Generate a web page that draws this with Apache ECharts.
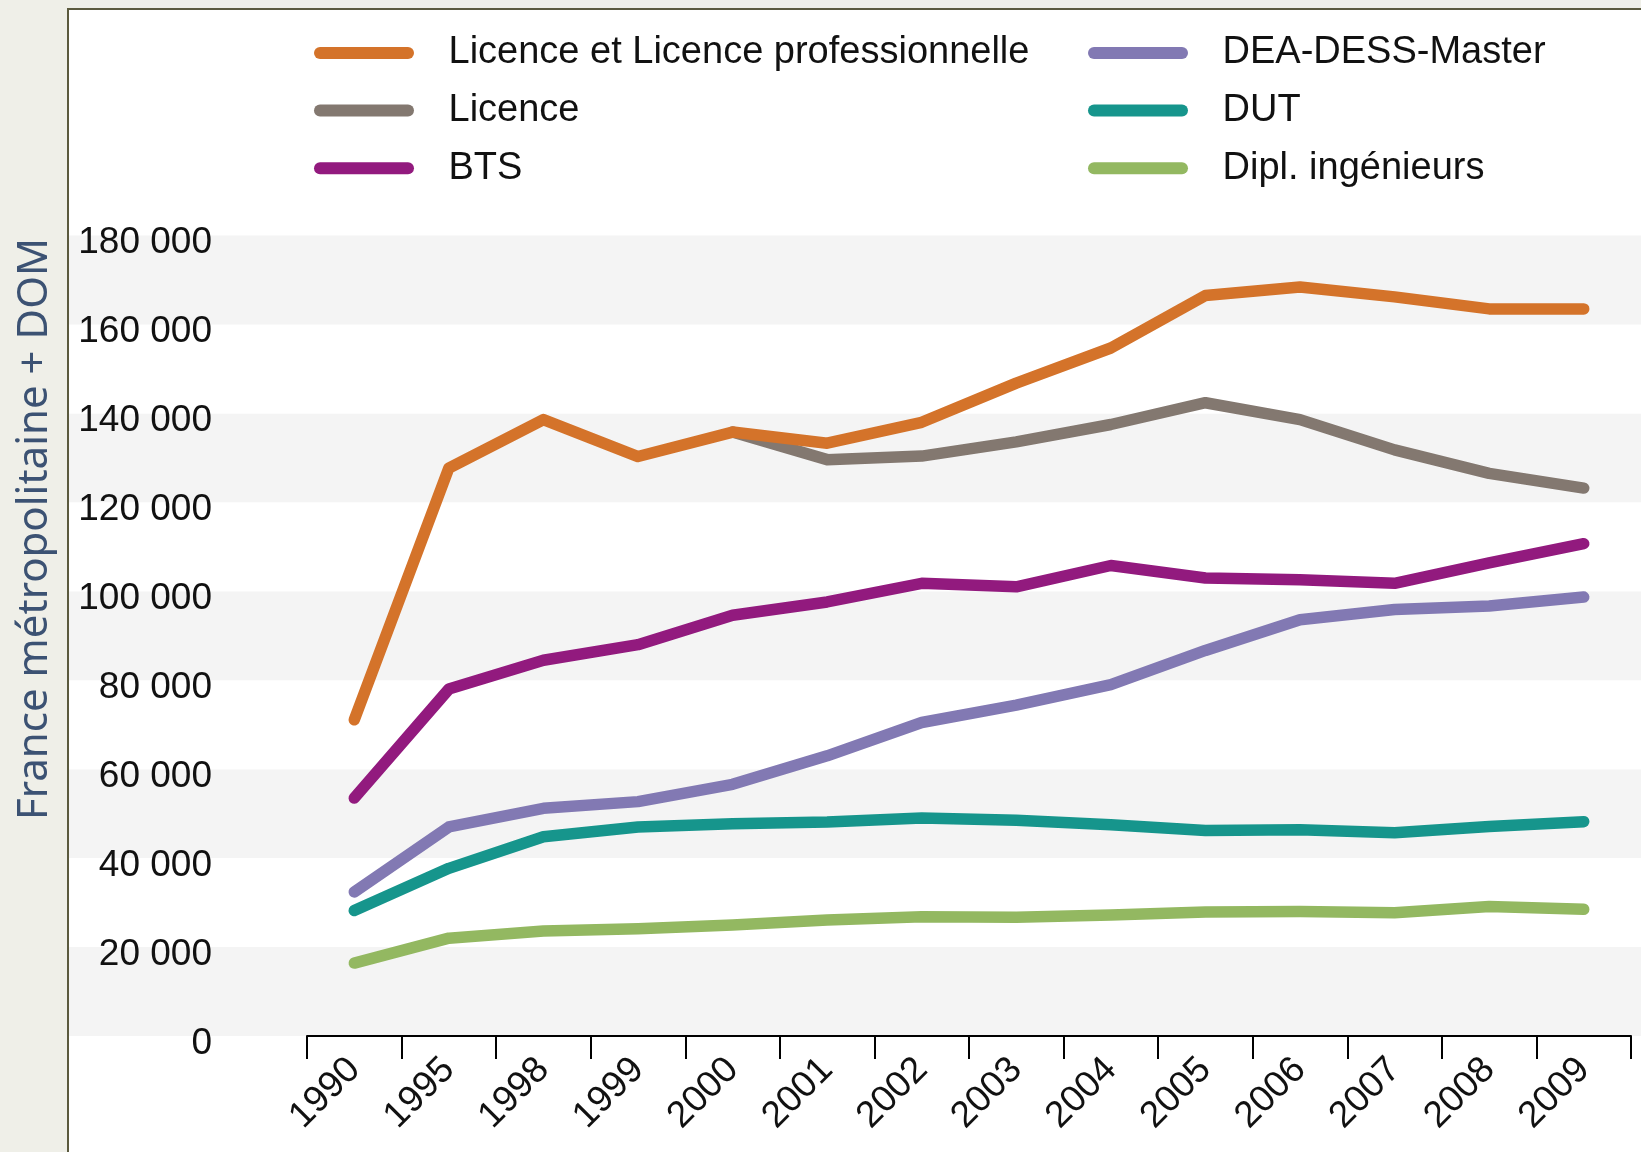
<!DOCTYPE html>
<html>
<head>
<meta charset="utf-8">
<script src="https://cdn.jsdelivr.net/npm/echarts@6/dist/echarts.min.js"></script>
<style>
  html, body { margin: 0; padding: 0; background: #efefe8; }
  #chart { width: 1641px; height: 1152px; }
</style>
</head>
<body>
<div id="chart"></div>
<script>
// années (catégories)
const years = ['1990', '1995', '1998', '1999', '2000', '2001', '2002', '2003', '2004', '2005', '2006', '2007', '2008', '2009'];

// effectifs
const licencePro = [71100, 127700, 138600, 130300, 135800, 133300, 138000, 146800, 154700, 166500, 168400, 166200, 163500, 163500];
const licence = [null, null, null, null, 135800, 129600, 130400, 133600, 137500, 142400, 138600, 131800, 126500, 123200];
const bts = [53500, 78000, 84500, 88000, 94600, 97600, 101800, 101000, 105800, 103000, 102600, 101800, 106400, 110700];
const master = [32400, 47000, 51200, 52700, 56600, 63000, 70500, 74400, 79000, 86700, 93600, 95900, 96700, 98700];
const dut = [28200, 37700, 44800, 47000, 47700, 48100, 49000, 48500, 47500, 46200, 46400, 45700, 47100, 48200];
const ingenieurs = [16400, 22000, 23600, 24100, 24950, 26100, 26800, 26700, 27200, 27900, 28000, 27700, 29100, 28500];

const yMax = 180000;
const yStep = 20000;

const chart = echarts.init(document.getElementById('chart'));

const capsule = 'path://M6,0 L94,0 A6,6 0 0 1 94,12 L6,12 A6,6 0 0 1 6,0 Z';
const font = 'Liberation Sans';

function mkLine(name, data, color, z) {
  return {
    name: name,
    type: 'line',
    xAxisIndex: 1,
    yAxisIndex: 1,
    data: data,
    showSymbol: false,
    symbol: 'none',
    z: z || 2,
    lineStyle: { color: color, width: 11.5, cap: 'round', join: 'round' },
    itemStyle: { color: color }
  };
}

const legendBase = {
  orient: 'vertical',
  top: 28,
  itemWidth: 103,
  itemHeight: 12,
  itemGap: 17.6,
  icon: capsule,
  textStyle: {
    fontFamily: font,
    fontSize: 38,
    color: '#111',
    lineHeight: 40,
    padding: [0, 0, 0, 28]
  }
};

const option = {
  animation: false,
  graphic: [
    {
      type: 'rect',
      z: -10,
      shape: { x: 68, y: 9, width: 1700, height: 1300 },
      style: { fill: '#ffffff', stroke: '#5b5a3e', lineWidth: 2 }
    },
    {
      type: 'text',
      x: 35,
      y: 529,
      rotation: Math.PI / 2,
      style: {
        text: 'France métropolitaine + DOM',
        fontFamily: 'Noto Sans',
        fontSize: 42,
        fill: '#3c5273',
        align: 'center',
        verticalAlign: 'middle'
      }
    }
  ],
  legend: [
    Object.assign({}, legendBase, {
      left: 309,
      data: ['Licence et Licence professionnelle', 'Licence', 'BTS']
    }),
    Object.assign({}, legendBase, {
      left: 1083,
      data: ['DEA-DESS-Master', 'DUT', 'Dipl. ingénieurs']
    })
  ],
  grid: [
    { left: 69, right: 0, top: 235.5, bottom: 116 },
    { left: 307, right: 10, top: 235.5, bottom: 116 }
  ],
  xAxis: [
    { type: 'value', gridIndex: 0, show: false, min: 0, max: 1 },
    {
      type: 'category',
      gridIndex: 1,
      data: years,
      boundaryGap: true,
      axisLine: { show: true, lineStyle: { color: '#000', width: 2 } },
      axisTick: { show: true, length: 23, lineStyle: { color: '#000', width: 2 } },
      axisLabel: {
        rotate: 45,
        margin: 28,
        fontFamily: font,
        fontSize: 37,
        color: '#111',
        interval: 0
      }
    }
  ],
  yAxis: [
    {
      type: 'value',
      gridIndex: 0,
      min: 0,
      max: yMax,
      interval: yStep,
      axisLine: { show: false },
      axisTick: { show: false },
      axisLabel: { show: false },
      splitLine: { show: false },
      splitArea: { show: true, areaStyle: { color: ['#f4f4f4', '#ffffff'] } }
    },
    {
      type: 'value',
      gridIndex: 1,
      min: 0,
      max: yMax,
      interval: yStep,
      axisLine: { show: false },
      axisTick: { show: false },
      splitLine: { show: false },
      axisLabel: {
        margin: 95,
        fontFamily: font,
        fontSize: 37,
        color: '#111',
        verticalAlign: 'top',
        lineHeight: 15,
        formatter: function (v) {
          return String(v).replace(/\B(?=(\d{3})+(?!\d))/g, ' ');
        }
      }
    }
  ],
  series: [
    mkLine('Licence et Licence professionnelle', licencePro, '#d4732a', 4),
    mkLine('Licence', licence, '#837870', 3),
    mkLine('BTS', bts, '#921a7e'),
    mkLine('DEA-DESS-Master', master, '#8279b3'),
    mkLine('DUT', dut, '#16958c'),
    mkLine('Dipl. ingénieurs', ingenieurs, '#93b861')
  ]
};

chart.setOption(option);
</script>
</body>
</html>
